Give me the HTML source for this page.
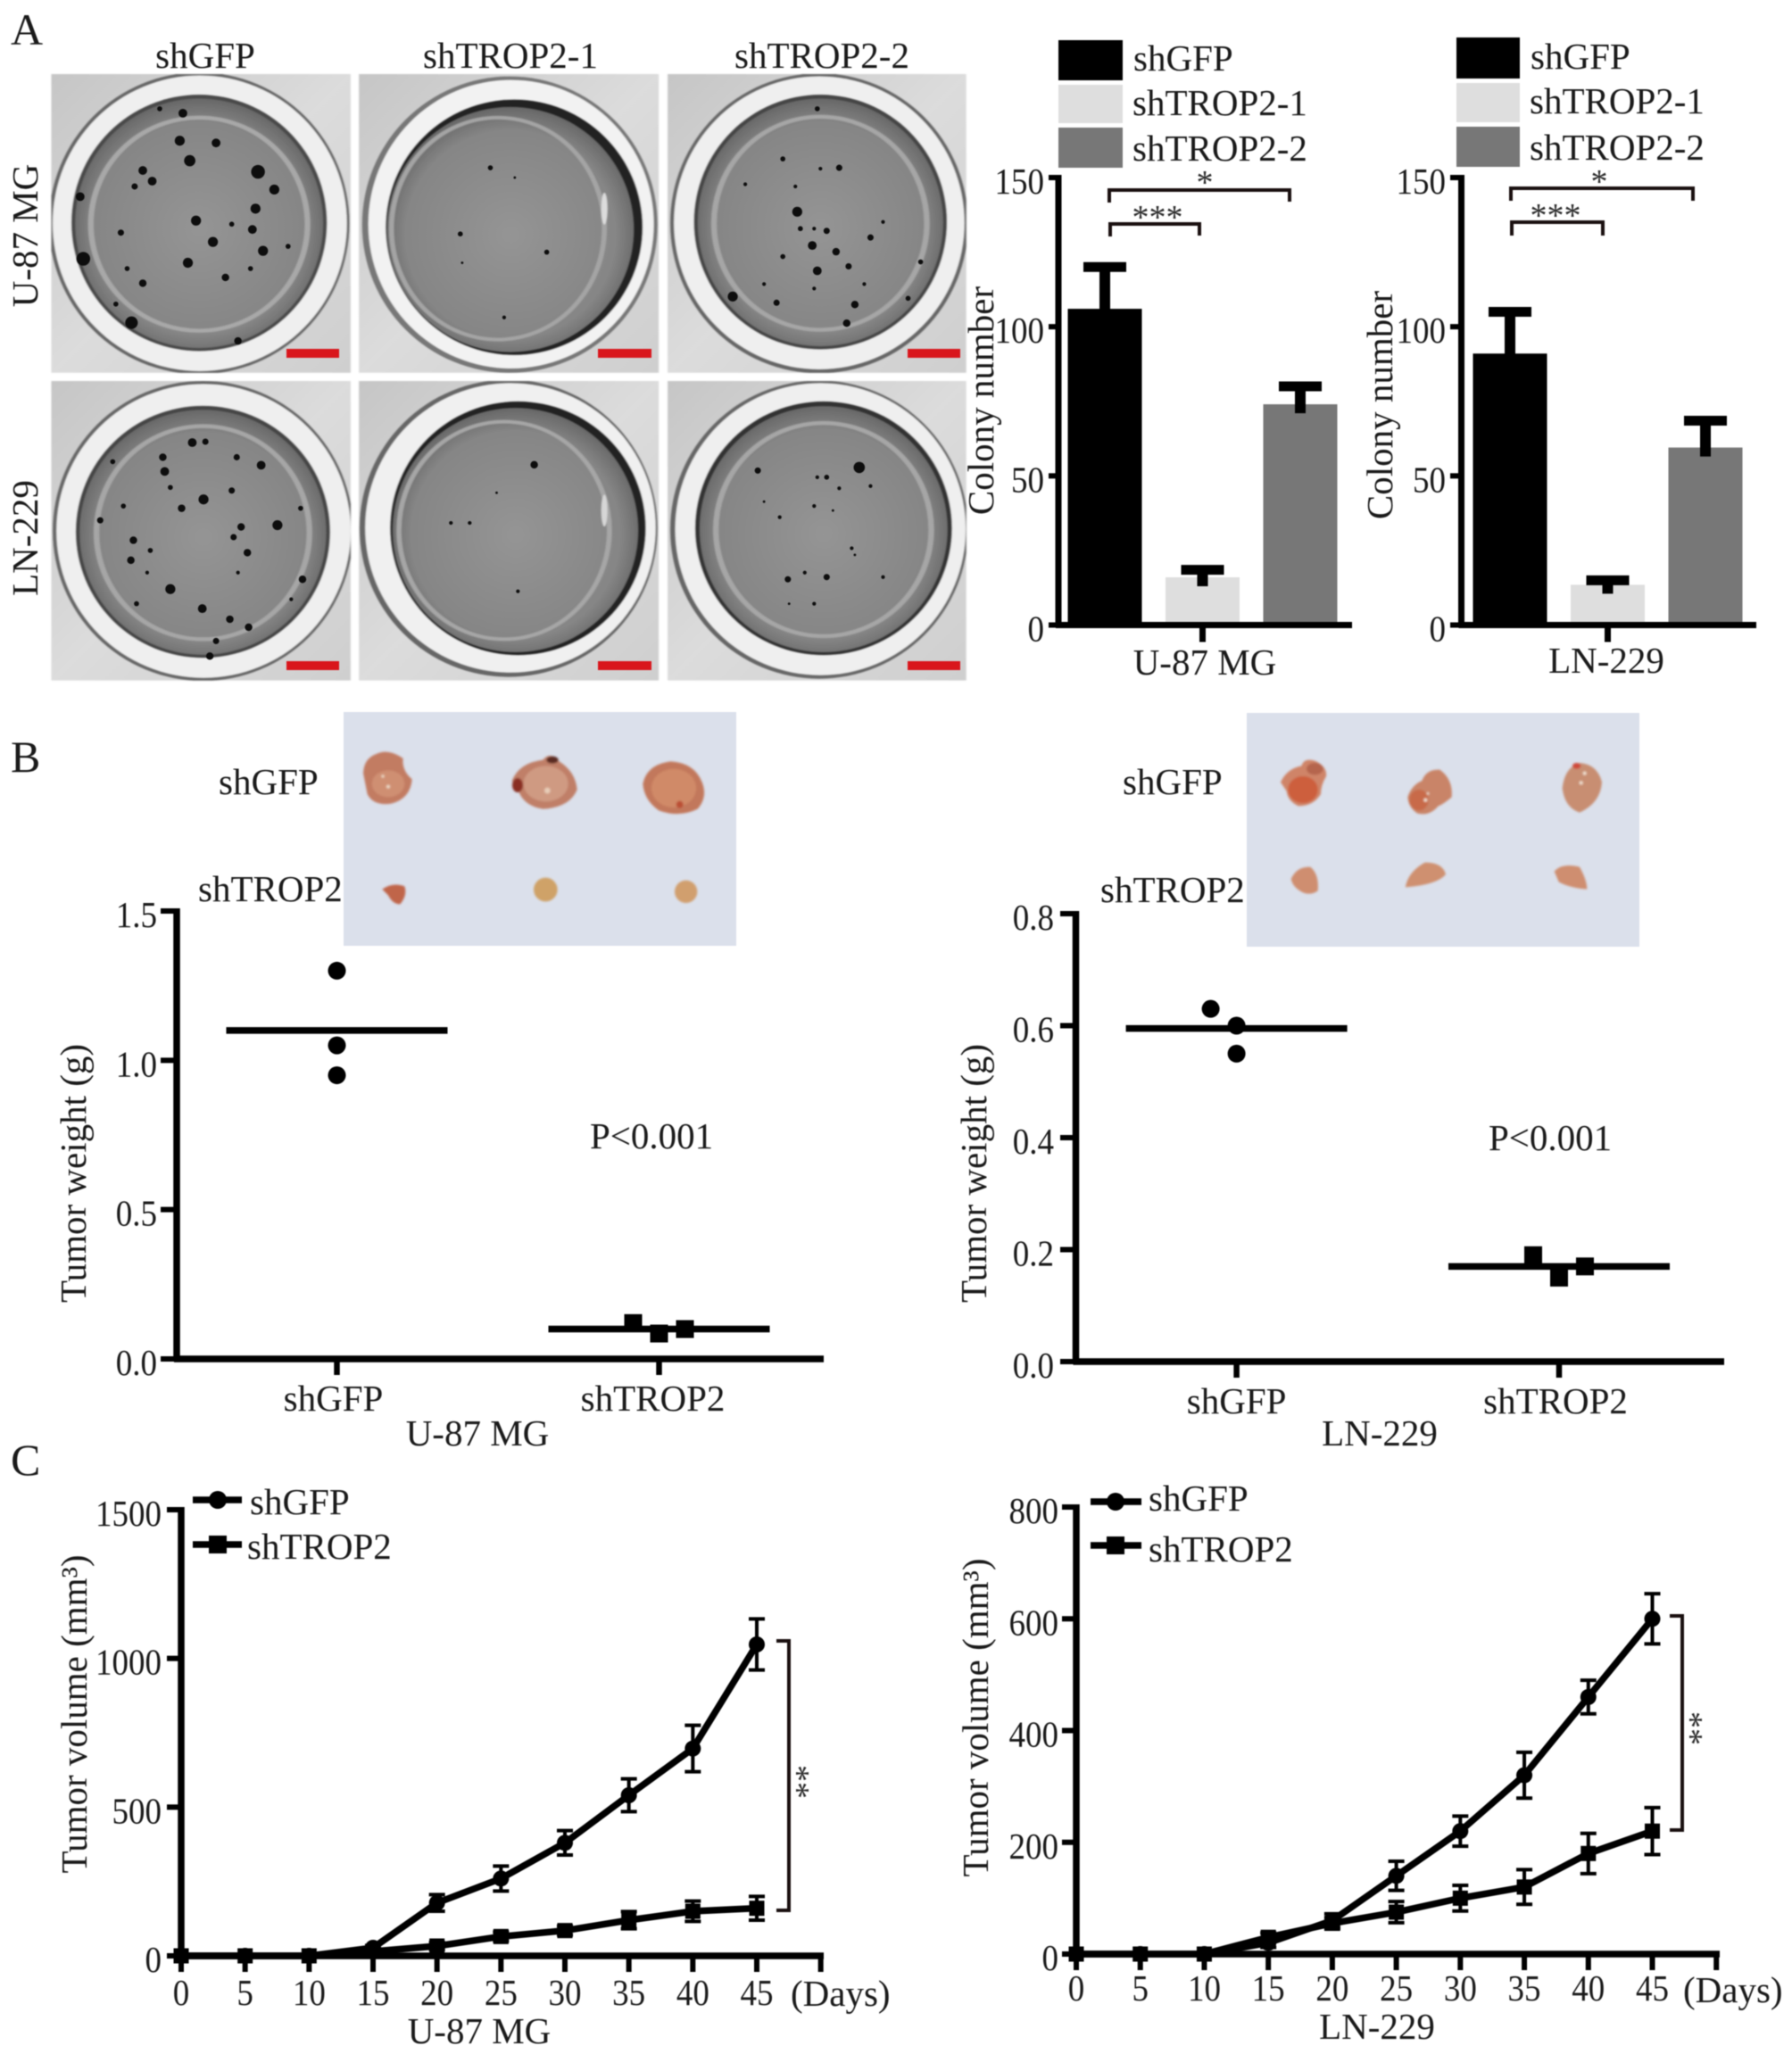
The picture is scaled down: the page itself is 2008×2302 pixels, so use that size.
<!DOCTYPE html>
<html lang="en">
<head>
<meta charset="utf-8">
<title>TROP2 knockdown figure</title>
<style>
html,body{margin:0;padding:0;background:#fff;}
svg{display:block;filter:blur(0.6px);}
text{font-family:"Liberation Serif",serif;fill:#1a1a1a;}
.lab{font-size:41px;}
.tick{font-size:41px;}
.panel{font-size:50px;}
.star{font-size:38px;fill:#2a2a2a;}
.brk{fill:none;stroke:#1a1010;stroke-width:4;}
</style>
</head>
<body>
<svg id="fig" xmlns="http://www.w3.org/2000/svg" width="2008" height="2302" viewBox="0 0 2008 2302">
<defs>
<radialGradient id="dish" cx="50%" cy="52%" r="52%">
<stop offset="0" stop-color="#959595"/><stop offset=".82" stop-color="#868686"/><stop offset="1" stop-color="#686868"/>
</radialGradient>
<linearGradient id="plate" x1="0" y1="0" x2="1" y2="1">
<stop offset="0" stop-color="#c6c6c6"/><stop offset=".5" stop-color="#dcdcdc"/><stop offset="1" stop-color="#cfcfcf"/>
</linearGradient>
<filter id="soft" x="-2%" y="-2%" width="104%" height="104%"><feGaussianBlur stdDeviation="1.2"/></filter>
<filter id="soft3" x="-10%" y="-10%" width="120%" height="120%"><feGaussianBlur stdDeviation="3"/></filter>
<clipPath id="c11"><rect x="82" y="167" width="478" height="673"/></clipPath>
<clipPath id="c12"><rect x="573" y="167" width="479" height="673"/></clipPath>
<clipPath id="c13"><rect x="1066" y="167" width="477" height="673"/></clipPath>
<clipPath id="c21"><rect x="82" y="858" width="478" height="675"/></clipPath>
<clipPath id="c22"><rect x="573" y="858" width="479" height="675"/></clipPath>
<clipPath id="c23"><rect x="1066" y="858" width="477" height="675"/></clipPath>
</defs>
<rect x="0" y="0" width="2008" height="2302" fill="#fff"/>

<text class="panel" x="12" y="50">A</text>
<text class="panel" x="12" y="865">B</text>
<text class="panel" x="12" y="1653">C</text>

<!-- Colony wells, drawn in a stretched working space -->
<g transform="scale(0.70175,0.49751)" filter="url(#soft)">
  <g clip-path="url(#c11)">
    <rect x="82" y="167" width="478" height="673" fill="url(#plate)"/>
    <ellipse cx="318" cy="503" rx="240" ry="340" fill="#666"/>
    <ellipse cx="319" cy="503" rx="235" ry="333" fill="#efefef"/>
    <ellipse cx="318" cy="502" rx="204" ry="289" fill="#4a4a4a"/>
    <ellipse cx="318" cy="503" rx="198" ry="281" fill="url(#dish)"/>
    <ellipse cx="318" cy="505" rx="173" ry="240" fill="none" stroke="#a8a8a8" stroke-width="9"/>
  </g>
  <g clip-path="url(#c12)">
    <rect x="573" y="167" width="479" height="673" fill="url(#plate)"/>
    <ellipse cx="814" cy="506" rx="236" ry="334" fill="#777"/>
    <ellipse cx="816" cy="505" rx="228" ry="325" fill="#f2f2f2"/>
    <ellipse cx="821" cy="512" rx="205" ry="288" fill="#222"/>
    <ellipse cx="815" cy="517" rx="197" ry="276" fill="url(#dish)"/>
    <ellipse cx="795" cy="515" rx="170" ry="250" fill="none" stroke="#a4a4a4" stroke-width="8"/>
    <ellipse cx="965" cy="470" rx="5" ry="36" fill="#dcdcdc"/>
  </g>
  <g clip-path="url(#c13)">
    <rect x="1066" y="167" width="477" height="673" fill="url(#plate)"/>
    <ellipse cx="1308" cy="503" rx="238" ry="338" fill="#666"/>
    <ellipse cx="1308" cy="502" rx="232" ry="330" fill="#efefef"/>
    <ellipse cx="1310" cy="500" rx="202" ry="287" fill="#444"/>
    <ellipse cx="1310" cy="501" rx="196" ry="279" fill="url(#dish)"/>
    <ellipse cx="1310" cy="503" rx="170" ry="240" fill="none" stroke="#a6a6a6" stroke-width="9"/>
  </g>
  <g clip-path="url(#c21)">
    <rect x="82" y="858" width="478" height="675" fill="url(#plate)"/>
    <ellipse cx="324" cy="1196" rx="240" ry="338" fill="#666"/>
    <ellipse cx="325" cy="1196" rx="235" ry="331" fill="#efefef"/>
    <ellipse cx="324" cy="1198" rx="203" ry="284" fill="#444"/>
    <ellipse cx="324" cy="1199" rx="197" ry="276" fill="url(#dish)"/>
    <ellipse cx="324" cy="1200" rx="170" ry="240" fill="none" stroke="#a6a6a6" stroke-width="9"/>
  </g>
  <g clip-path="url(#c22)">
    <rect x="573" y="858" width="479" height="675" fill="url(#plate)"/>
    <ellipse cx="812" cy="1190" rx="238" ry="335" fill="#666"/>
    <ellipse cx="815" cy="1189" rx="232" ry="326" fill="#f0f0f0"/>
    <ellipse cx="827" cy="1190" rx="204" ry="286" fill="#222"/>
    <ellipse cx="823" cy="1194" rx="196" ry="275" fill="url(#dish)"/>
    <ellipse cx="805" cy="1195" rx="168" ry="245" fill="none" stroke="#a6a6a6" stroke-width="8"/>
    <ellipse cx="965" cy="1150" rx="5" ry="36" fill="#d6d6d6"/>
  </g>
  <g clip-path="url(#c23)">
    <rect x="1066" y="858" width="477" height="675" fill="url(#plate)"/>
    <ellipse cx="1308" cy="1193" rx="238" ry="336" fill="#666"/>
    <ellipse cx="1310" cy="1192" rx="232" ry="329" fill="#efefef"/>
    <ellipse cx="1315" cy="1190" rx="205" ry="286" fill="#333"/>
    <ellipse cx="1315" cy="1192" rx="198" ry="277" fill="url(#dish)"/>
    <ellipse cx="1315" cy="1193" rx="172" ry="240" fill="none" stroke="#a6a6a6" stroke-width="9"/>
  </g>
</g>
<g id="colonies"></g>

<g fill="#d9161c">
  <rect x="321" y="391" width="59" height="10"/><rect x="670" y="391" width="60" height="10"/><rect x="1017" y="391" width="59" height="10"/>
  <rect x="321" y="741" width="59" height="10"/><rect x="670" y="741" width="60" height="10"/><rect x="1017" y="741" width="59" height="10"/>
</g>
<g class="lab">
  <text x="230" y="76" text-anchor="middle">shGFP</text>
  <text x="572" y="76" text-anchor="middle">shTROP2-1</text>
  <text x="921" y="76" text-anchor="middle">shTROP2-2</text>
</g>
<g class="lab">
  <text transform="rotate(-90 42 264)" x="42" y="264" text-anchor="middle">U-87 MG</text>
  <text transform="rotate(-90 42 603)" x="42" y="603" text-anchor="middle">LN-229</text>
</g>

<!-- Bar chart legends -->
<g>
  <rect x="1186" y="45" width="72" height="45" fill="#000"/><rect x="1186" y="95" width="72" height="43" fill="#dedede"/><rect x="1186" y="143" width="72" height="45" fill="#777"/>
  <text class="lab" x="1270" y="79">shGFP</text><text class="lab" x="1269" y="129">shTROP2-1</text><text class="lab" x="1269" y="180">shTROP2-2</text>
</g>
<g>
  <rect x="1632" y="42" width="71" height="46" fill="#000"/><rect x="1632" y="93" width="71" height="44" fill="#dedede"/><rect x="1632" y="142" width="71" height="45" fill="#777"/>
  <text class="lab" x="1715" y="77">shGFP</text><text class="lab" x="1714" y="127">shTROP2-1</text><text class="lab" x="1714" y="179">shTROP2-2</text>
</g>
<g id="barU87"></g>
<g id="barLN"></g>
<g>
  <path class="brk" d="M1243 227V213H1445V226"/><path class="brk" d="M1244 265V251H1344V264"/>
  <text class="star" x="1350" y="217" text-anchor="middle">*</text><text class="star" x="1297" y="256" text-anchor="middle">***</text>
</g>
<g>
  <path class="brk" d="M1693 225V211H1897V225"/><path class="brk" d="M1694 264V249H1796V264"/>
  <text class="star" x="1792" y="216" text-anchor="middle">*</text><text class="star" x="1743" y="254" text-anchor="middle">***</text>
</g>
<text class="lab" transform="rotate(-90 1113 449)" x="1113" y="449" text-anchor="middle">Colony number</text>
<text class="lab" transform="rotate(-90 1560 454)" x="1560" y="454" text-anchor="middle">Colony number</text>
<text class="lab" x="1350" y="756" text-anchor="middle">U-87 MG</text>
<text class="lab" x="1800" y="754" text-anchor="middle">LN-229</text>

<!-- Tumor photographs -->
<g>
  <rect x="385" y="798" width="440" height="262" fill="#dbe0eb"/>
  <g transform="translate(385 800) scale(.33333)" filter="url(#soft3)">
    <path d="M66 200Q68 150 110 135Q150 115 200 150Q195 190 230 220Q225 285 160 302Q100 310 80 270Z" fill="#c27b62"/>
    <ellipse cx="150" cy="235" rx="55" ry="45" fill="#cf8f72"/><circle cx="150" cy="245" r="6" fill="#ecd8c4"/><circle cx="132" cy="210" r="5" fill="#ecd8c4"/>
    <path d="M566 225Q590 165 670 155Q695 125 725 160Q780 195 785 255Q760 315 670 320Q610 310 590 265Z" fill="#c07f68"/>
    <ellipse cx="680" cy="235" rx="75" ry="60" fill="#cf9a82"/><ellipse cx="585" cy="240" rx="18" ry="24" fill="#8a2e20"/><ellipse cx="702" cy="155" rx="20" ry="12" fill="#5a2a20"/><circle cx="685" cy="258" r="10" fill="#e8cdb8"/>
    <path d="M1006 235Q1020 170 1100 160Q1180 165 1205 230Q1225 280 1190 320Q1130 350 1060 325Q1010 290 1006 235Z" fill="#c2785c"/>
    <ellipse cx="1110" cy="250" rx="75" ry="65" fill="#d08a68"/><circle cx="1130" cy="305" r="12" fill="#bb5036"/>
    <path d="M130 590Q165 565 205 580Q215 610 190 640Q165 640 150 610Z" fill="#c0654a"/>
    <circle cx="679" cy="591" r="40" fill="#cfa268"/>
    <circle cx="1151" cy="598" r="38" fill="#d19f6e"/>
  </g>
</g>
<g>
  <rect x="1397" y="799" width="440" height="262" fill="#dbe0eb"/>
  <g transform="translate(1400 800) scale(.33333)" filter="url(#soft3)">
    <path d="M105 230Q125 185 175 175Q185 145 225 160Q262 180 258 210Q240 240 240 270Q215 310 165 310Q130 295 125 260Z" fill="#cf8468"/>
    <ellipse cx="180" cy="255" rx="50" ry="45" fill="#cd5f3c"/><ellipse cx="220" cy="185" rx="28" ry="20" fill="#b5654e"/>
    <path d="M532 280Q545 240 580 225Q595 185 640 188Q685 220 680 280Q650 305 635 310Q605 345 565 335Q535 315 532 280Z" fill="#c98468"/>
    <ellipse cx="570" cy="290" rx="32" ry="35" fill="#c86a4a"/><circle cx="592" cy="290" r="6" fill="#f0e0d0"/><circle cx="600" cy="268" r="4" fill="#f0e0d0"/>
    <path d="M1052 250Q1060 180 1110 165Q1170 170 1185 230Q1180 300 1110 332Q1060 315 1052 250Z" fill="#c88e72"/>
    <ellipse cx="1100" cy="175" rx="14" ry="10" fill="#cf4a3a"/><circle cx="1127" cy="200" r="6" fill="#f0e0d0"/><circle cx="1115" cy="232" r="6" fill="#f0e0d0"/>
    <path d="M140 555Q160 512 205 515Q235 540 230 595Q200 615 170 595Q145 580 140 555Z" fill="#cf8e70"/>
    <path d="M525 580Q535 530 590 500Q650 500 660 540Q630 575 525 583Z" fill="#cf9070"/>
    <path d="M1025 530Q1050 500 1110 515Q1135 560 1135 590Q1075 585 1040 565Z" fill="#cf8e70"/>
  </g>
</g>
<g class="lab">
  <text x="245" y="890">shGFP</text><text x="222" y="1010">shTROP2</text>
  <text x="1258" y="890">shGFP</text><text x="1233" y="1011">shTROP2</text>
</g>

<g id="weightU87"></g>
<g id="weightLN"></g>
<text class="lab" x="661" y="1287">P&lt;0.001</text>
<text class="lab" x="1668" y="1289">P&lt;0.001</text>
<text class="lab" transform="rotate(-90 96 1315)" x="96" y="1315" text-anchor="middle">Tumor weight (g)</text>
<text class="lab" transform="rotate(-90 1105 1315)" x="1105" y="1315" text-anchor="middle">Tumor weight (g)</text>
<text class="lab" x="535" y="1620" text-anchor="middle">U-87 MG</text>
<text class="lab" x="1546" y="1620" text-anchor="middle">LN-229</text>

<g id="volumeU87"></g>
<g id="volumeLN"></g>
<text class="lab" transform="rotate(-90 97 1921)" x="97" y="1921" text-anchor="middle">Tumor volume (mm³)</text>
<text class="lab" transform="rotate(-90 1107 1925)" x="1107" y="1925" text-anchor="middle">Tumor volume (mm³)</text>
<text class="lab" x="537" y="2290" text-anchor="middle">U-87 MG</text>
<text class="lab" x="1543" y="2285" text-anchor="middle">LN-229</text>
<text class="lab" x="886" y="2248">(Days)</text>
<text class="lab" x="1886" y="2244">(Days)</text>

<g>
  <line x1="216" x2="271" y1="1681" y2="1681" stroke="#000" stroke-width="7.5"/><circle cx="244" cy="1681" r="10" fill="#000"/>
  <line x1="216" x2="271" y1="1731" y2="1731" stroke="#000" stroke-width="7.5"/><rect x="234" y="1721" width="20" height="20" fill="#000"/>
  <text class="lab" x="280" y="1697">shGFP</text><text class="lab" x="277" y="1747">shTROP2</text>
</g>
<g>
  <line x1="1222" x2="1279" y1="1683" y2="1683" stroke="#000" stroke-width="7.5"/><circle cx="1250" cy="1683" r="10" fill="#000"/>
  <line x1="1222" x2="1279" y1="1732" y2="1732" stroke="#000" stroke-width="7.5"/><rect x="1240" y="1722" width="20" height="20" fill="#000"/>
  <text class="lab" x="1287" y="1693">shGFP</text><text class="lab" x="1287" y="1750">shTROP2</text>
</g>
<g>
  <path class="brk" d="M870 1839H884V2141H870"/>
  <text class="star" transform="rotate(90 881 1997)" x="881" y="1997" text-anchor="middle">**</text>
</g>
<g>
  <path class="brk" d="M1871 1811H1885V2051H1871"/>
  <text class="star" transform="rotate(90 1882 1937)" x="1882" y="1937" text-anchor="middle">**</text>
</g>
</svg>

<script>
// ---- Colony bar charts ----
const colonyCategories = ['shGFP', 'shTROP2-1', 'shTROP2-2'];
const colonyColors = ['#000000', '#dedede', '#777777'];
const colonyTicks = [0, 50, 100, 150];
const colonyU87Means = [106, 16, 74];
const colonyU87Errors = [14, 2.5, 6];
const colonyLN229Means = [91, 13.5, 59.5];
const colonyLN229Errors = [14, 1.5, 9];

// ---- Tumor weight scatter charts ----
const weightCategories = ['shGFP', 'shTROP2'];
const weightTicksU87 = ['0.0', '0.5', '1.0', '1.5'];
const weightTicksLN229 = ['0.0', '0.2', '0.4', '0.6', '0.8'];
const weightU87Control = [1.3, 1.05, 0.95];
const weightU87Knockdown = [0.12, 0.085, 0.1];
const weightU87Means = [1.1, 0.1];
const weightLN229Control = [0.63, 0.6, 0.55];
const weightLN229Knockdown = [0.19, 0.15, 0.17];
const weightLN229Means = [0.595, 0.17];
const jitterControlU87 = [0, 0, 0];
const jitterControlLN229 = [-1, 0, 0];
const jitterKnockdown = [-1, 0, 1];

// ---- Tumor volume line charts ----
const volumeDays = [0, 5, 10, 15, 20, 25, 30, 35, 40, 45];
const volumeTicksU87 = [0, 500, 1000, 1500];
const volumeTicksLN229 = [0, 200, 400, 600, 800];
const volumeU87Control = [0, 0, 0, 27, 178, 260, 380, 540, 697, 1047];
const volumeU87ControlErr = [0, 0, 0, 8, 28, 42, 41, 55, 78, 86];
const volumeU87Knockdown = [0, 0, 0, 15, 33, 65, 85, 120, 150, 160];
const volumeU87KnockdownErr = [0, 0, 0, 5, 12, 15, 15, 29, 34, 40];
const volumeLN229Control = [0, 0, 0, 20, 60, 140, 220, 320, 460, 600];
const volumeLN229ControlErr = [0, 0, 0, 8, 12, 26, 27, 41, 30, 45];
const volumeLN229Knockdown = [0, 0, 0, 30, 55, 75, 100, 120, 180, 220];
const volumeLN229KnockdownErr = [0, 0, 0, 8, 10, 19, 23, 31, 36, 42];

// ---- Colonies visible in the well photographs (photo texture) ----
const wellColonies = [
 [292,255,7,287,317,8,303,362,9,345,322,7,412,387,11,228,384,7,243,408,7,215,420,5,438,427,8,128,443,7,408,470,8,313,497,8,403,517,7,370,505,4,193,524,5,340,545,8,420,565,8,133,583,11,300,592,8,203,605,4,228,638,6,360,625,6,400,605,4,210,727,10,185,685,4,380,768,6,255,245,4,460,555,4],
 [783,378,4,822,400,2,735,527,4,873,568,4,805,715,3,738,592,2],
 [1273,477,8,1297,553,7,1305,610,7,1355,600,5,1335,567,6,1170,668,8,1240,682,5,1365,686,6,1352,728,6,1305,245,4,1250,358,4,1340,378,5,1190,415,3,1278,515,4,1300,515,3,1320,520,5,1390,535,5,1250,578,4,1470,590,4,1380,640,3,1450,672,4,1310,380,3,1270,420,3,1410,500,3,1220,640,3,1300,650,3],
 [307,997,7,328,995,5,260,1030,6,263,1062,7,417,1048,7,378,1030,5,272,1098,4,325,1125,8,370,1105,5,290,1145,6,197,1140,4,443,1183,8,385,1187,6,160,1172,5,213,1217,6,373,1210,5,395,1245,6,240,1240,4,209,1262,6,483,1305,6,272,1327,8,323,1371,7,367,1395,6,397,1413,6,345,1444,5,335,1478,6,218,1360,4,480,1145,4,180,1040,4,235,1290,3,380,1290,3,465,1350,3],
 [853,1047,6,827,1332,3,720,1178,3,750,1178,3,793,1110,2],
 [1372,1053,9,1210,1060,5,1320,1075,4,1305,1075,3,1390,1095,3,1245,1165,3,1320,1300,5,1258,1305,5,1220,1130,2,1360,1235,3,1300,1140,3,1285,1290,3,1340,1100,3,1300,1360,3,1260,1360,2,1410,1300,3,1365,1250,2,1330,1150,2]
];

const NS = 'http://www.w3.org/2000/svg';
function mk(parent, tag, props, txt) {
  const el = document.createElementNS(NS, tag);
  for (const k in props) el.setAttribute(k, props[k]);
  if (txt !== undefined) el.textContent = txt;
  parent.appendChild(el);
  return el;
}
function linear(d0, d1, r0, r1) {
  return function (v) { return r0 + (v - d0) * (r1 - r0) / (d1 - d0); };
}
// Tick labels in the figure are tall and narrow: 41px glyphs squeezed to a 37px advance.
function tickLength(s) {
  let w = 0;
  String(s).split('').forEach(function (ch) { w += ch === '.' ? 0.25 : 0.5; });
  return w * 37;
}

// wells
(function () {
  const g = document.getElementById('colonies');
  wellColonies.forEach(function (list) {
    for (let i = 0; i < list.length; i += 3) {
      const c = mk(g, 'circle', {cx: list[i] / 1.425, cy: list[i + 1] / 2.01, r: list[i + 2] / 1.425, fill: '#0d0d0d'});
      
      
    }
  });
})();

function drawAxes(g, o) {
  const ya = mk(g, 'line', {x1: o.axisX, x2: o.axisX, y1: o.yTop - 3, y2: o.yBase + 3, stroke: '#000', 'stroke-width': o.axisW});
  
  
  const xa = mk(g, 'line', {x1: o.axisX - 3, x2: o.axisEnd, y1: o.yBase, y2: o.yBase, stroke: '#000', 'stroke-width': o.axisW});
  
  
  o.yTicks.forEach(function (t) {
    const y = o.y(Number(t));
    const tk = mk(g, 'line', {x1: o.tickLeft, x2: o.axisX, y1: y, y2: y, stroke: '#000', 'stroke-width': o.tickW});
    
    
    const lb = mk(g, 'text', {class: 'tick', x: o.labelRight, y: y + 18, 'text-anchor': 'end', textLength: tickLength(t), lengthAdjust: 'spacingAndGlyphs'}, String(t));
    
    
  });
}

function drawBars(id, means, errs, o) {
  const g = document.getElementById(id);
  o.y = linear(0, 150, o.yBase, o.yTop);
  o.yTicks = colonyTicks;
  const bx = function (i) { return o.firstX + i * o.step; };
  means.forEach(function (m, i) {
    const cx = bx(i);
    const capY = o.y(m + errs[i]);
    const bar = mk(g, 'rect', {x: cx - 41.5, y: o.y(m), width: 83, height: o.yBase - o.y(m), fill: colonyColors[i]});
    
    
    const stem = mk(g, 'line', {x1: cx, x2: cx, y1: capY, y2: o.y(m - 3), stroke: '#000', 'stroke-width': 12});
    
    
    const cap = mk(g, 'line', {x1: cx - 24, x2: cx + 24, y1: capY, y2: capY, stroke: '#000', 'stroke-width': 11});
    
    
  });
  drawAxes(g, o);
  const t = mk(g, 'line', {x1: o.firstX + o.step, x2: o.firstX + o.step, y1: o.yBase, y2: o.yBase + 19, stroke: '#000', 'stroke-width': 7});
  
  
}
drawBars('barU87', colonyU87Means, colonyU87Errors, {axisX: 1186, axisEnd: 1515, yTop: 199, yBase: 700.5, axisW: 7, tickW: 6, tickLeft: 1175, labelRight: 1170, firstX: 1238, step: 109.5});
drawBars('barLN', colonyLN229Means, colonyLN229Errors, {axisX: 1637.5, axisEnd: 1968, yTop: 199, yBase: 700.5, axisW: 7, tickW: 6, tickLeft: 1625, labelRight: 1620, firstX: 1692, step: 109.5});

function drawWeight(id, ticks, maxV, ctrl, kd, means, jitCtrl, jitKd, o) {
  const g = document.getElementById(id);
  o.y = linear(0, maxV, o.yBase, o.yTop);
  o.yTicks = ticks;
  drawAxes(g, o);
  const xs = [o.x0, o.x1];
  xs.forEach(function (x, i) {
    const t = mk(g, 'line', {x1: x, x2: x, y1: o.yBase, y2: o.yBase + 18, stroke: '#000', 'stroke-width': 6.5});
    
    
    const l = mk(g, 'text', {class: 'lab', x: x + o.labelShift[i], y: o.yBase + 58, 'text-anchor': 'middle'}, weightCategories[i]);
    
    
    const m = mk(g, 'line', {x1: x - 124, x2: x + 124, y1: o.y(means[i]), y2: o.y(means[i]), stroke: '#000', 'stroke-width': 7.5});
    
    
  });
  ctrl.forEach(function (v, i) {
    const c = mk(g, 'ellipse', {cx: o.x0 + jitCtrl[i] * 29, cy: o.y(v), rx: 10, ry: 10, fill: '#000'});
    
    
  });
  kd.forEach(function (v, i) {
    const s = mk(g, 'rect', {x: o.x1 + jitKd[i] * 29 - 10, y: o.y(v) - 10, width: 20, height: 20, fill: '#000'});
    
    
  });
}
drawWeight('weightU87', weightTicksU87, 1.5, weightU87Control, weightU87Knockdown, weightU87Means, jitterControlU87, jitterKnockdown,
  {axisX: 198, axisEnd: 923, yTop: 1021, yBase: 1523, axisW: 7.5, tickW: 6, tickLeft: 180, labelRight: 176, x0: 377.5, x1: 738.5, labelShift: [-4, -7]});
drawWeight('weightLN', weightTicksLN229, 0.8, weightLN229Control, weightLN229Knockdown, weightLN229Means, jitterControlLN229, jitterKnockdown,
  {axisX: 1205.5, axisEnd: 1932, yTop: 1024, yBase: 1526, axisW: 7.5, tickW: 6, tickLeft: 1188, labelRight: 1181, x0: 1385.6, x1: 1747, labelShift: [0, -4]});

function drawVolume(id, ticks, maxV, ctrl, ctrlErr, kd, kdErr, o) {
  const g = document.getElementById(id);
  o.y = linear(0, maxV, o.yBase, o.yTop);
  o.yTicks = ticks;
  const x = linear(0, 45, o.axisX, o.x45);
  drawAxes(g, o);
  volumeDays.concat([50]).forEach(function (d) {
    const t = mk(g, 'line', {x1: x(d), x2: x(d), y1: o.yBase, y2: o.yBase + 18, stroke: '#000', 'stroke-width': 6});
    
    
  });
  volumeDays.forEach(function (d) {
    const l = mk(g, 'text', {class: 'tick', x: x(d), y: o.labelY, 'text-anchor': 'middle', textLength: tickLength(d), lengthAdjust: 'spacingAndGlyphs'}, String(d));
    
    
  });
  [[ctrl, ctrlErr, 'shgfp'], [kd, kdErr, 'shtrop2']].forEach(function (s) {
    const vals = s[0], errs = s[1], nm = s[2];
    const d = vals.map(function (v, i) { return x(volumeDays[i]) + ',' + o.y(v); }).join(' ');
    const pl = mk(g, 'polyline', {points: d, fill: 'none', stroke: '#000', 'stroke-width': 7.5, 'stroke-linejoin': 'round'});
    
    
    vals.forEach(function (v, i) {
      const cx = x(volumeDays[i]), cy = o.y(v);
      if (errs[i] > 0) {
        const e = o.y(v) - o.y(v + errs[i]);
        const eb = mk(g, 'path', {d: 'M' + (cx - 9) + ' ' + (cy - e) + 'H' + (cx + 9) + 'M' + cx + ' ' + (cy - e) + 'V' + (cy + e) + 'M' + (cx - 9) + ' ' + (cy + e) + 'H' + (cx + 9), fill: 'none', stroke: '#000', 'stroke-width': 4});
        
        
      }
      if (nm === 'shgfp') {
        const c = mk(g, 'circle', {cx: cx, cy: cy, r: 9, fill: '#000'});
        
        
      } else {
        const r = mk(g, 'rect', {x: cx - 8.5, y: cy - 8.5, width: 17, height: 17, fill: '#000'});
        
        
      }
    });
  });
}
drawVolume('volumeU87', volumeTicksU87, 1500, volumeU87Control, volumeU87ControlErr, volumeU87Knockdown, volumeU87KnockdownErr,
  {axisX: 203, x45: 848, axisEnd: 923, yTop: 1692, yBase: 2192, axisW: 7.5, tickW: 6, tickLeft: 187, labelRight: 181, labelY: 2247});
drawVolume('volumeLN', volumeTicksLN229, 800, volumeLN229Control, volumeLN229ControlErr, volumeLN229Knockdown, volumeLN229KnockdownErr,
  {axisX: 1206, x45: 1851.5, axisEnd: 1927, yTop: 1689, yBase: 2190, axisW: 7.5, tickW: 6, tickLeft: 1190, labelRight: 1186, labelY: 2242});
</script>
</body>
</html>
